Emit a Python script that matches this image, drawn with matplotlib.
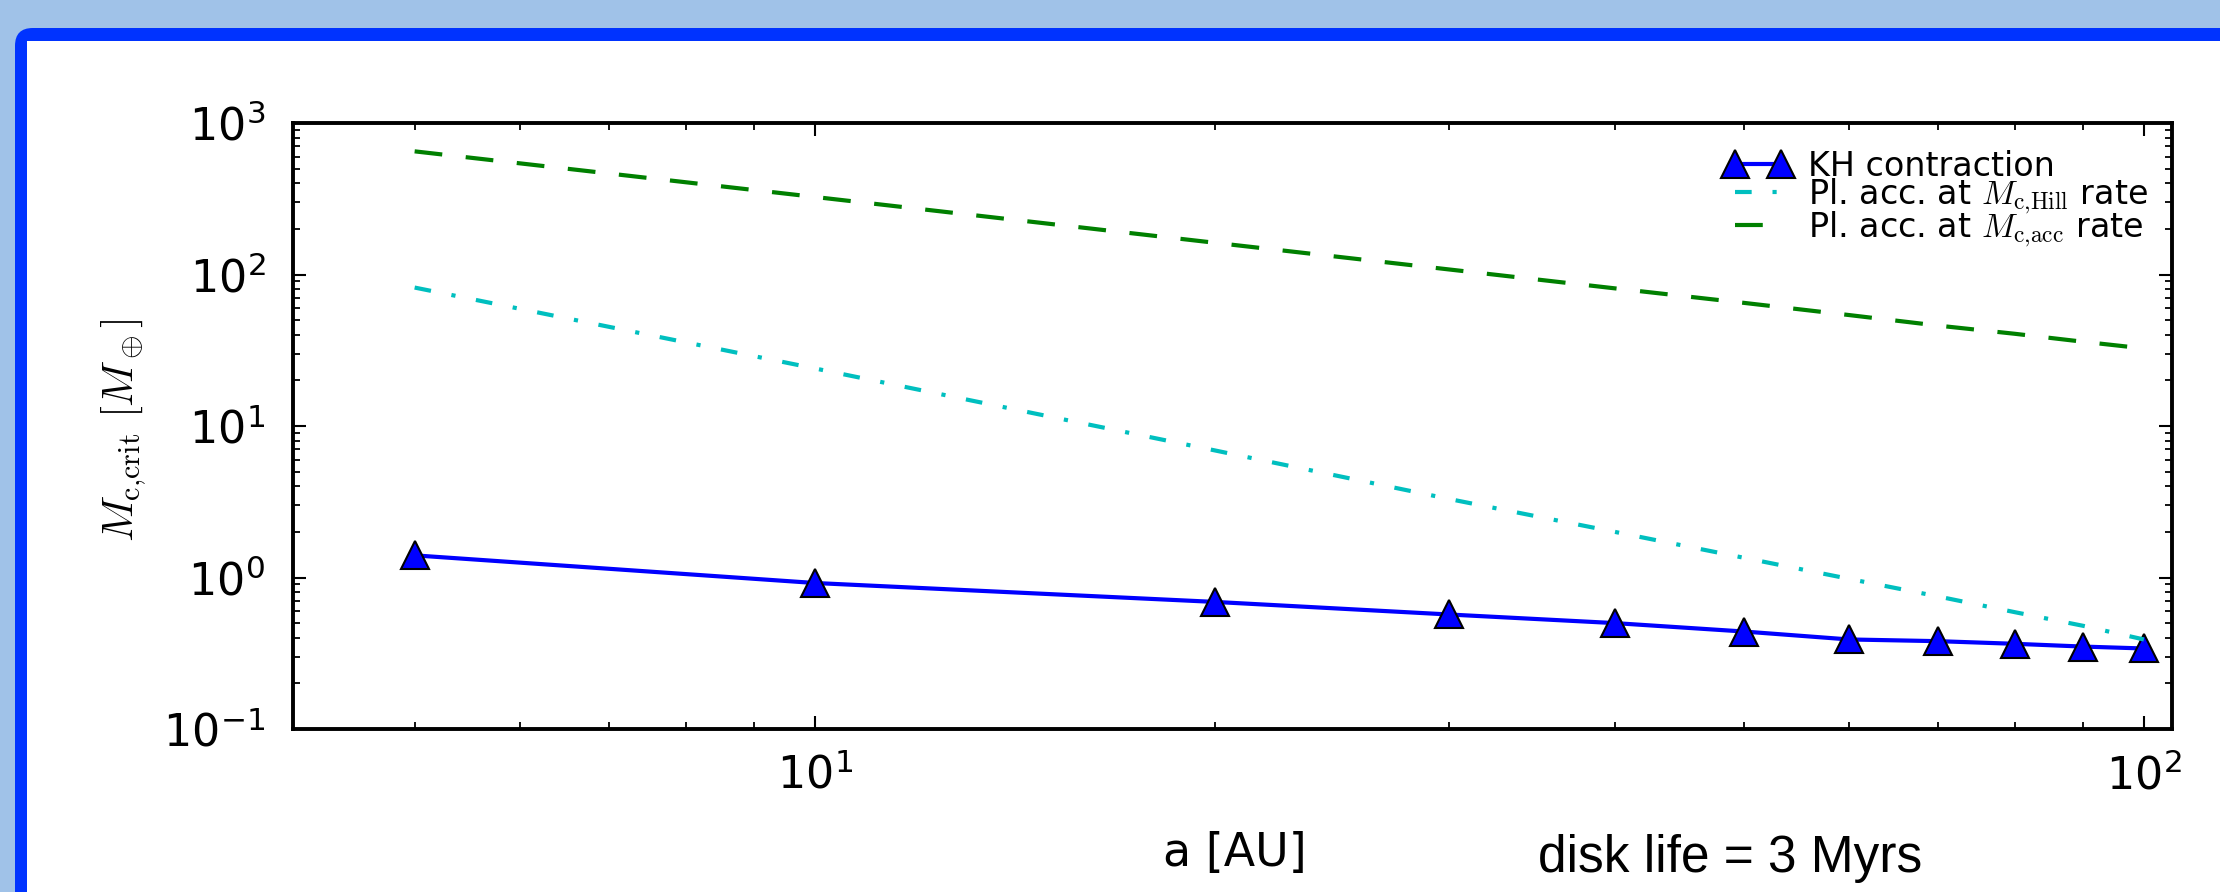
"""
=========================================================
Critical core mass vs. semi-major axis (disk life 3 Myr)
=========================================================
"""

import math
import matplotlib
matplotlib.use("Agg")
import matplotlib.pyplot as plt
from matplotlib.patches import Rectangle, FancyBboxPatch
from matplotlib.ticker import FuncFormatter, LogLocator

# ==========================================================
# Data
# ==========================================================

a_au = [5, 10, 20, 30, 40, 50, 60, 70, 80, 90, 100]

kh_contraction = [1.40, 0.92, 0.69, 0.57, 0.50, 0.44, 0.39, 0.38, 0.365, 0.35, 0.34]

acc_hill_rate = [82, 24, 6.9, 3.3, 2.0, 1.35, 0.98, 0.75, 0.59, 0.48, 0.39]

acc_acc_rate = [650, 325, 162, 108, 81, 65, 54, 46, 40.6, 36, 32.5]

labels = [
    "KH contraction",
    r"Pl. acc. at $M_{\rm c{,}Hill}$ rate",
    r"Pl. acc. at $M_{\rm c{,}acc}$ rate",
]

# ==========================================================
# Style
# ==========================================================

plt.rcParams["font.family"] = ["DejaVu Sans"]
plt.rcParams["mathtext.fontset"] = "cm"
plt.rcParams["lines.scale_dashes"] = False

W, H = 2220, 892
fig = plt.figure(figsize=(W / 100, H / 100), dpi=100)
fig.patch.set_facecolor("#A0C2E8")

# blue frame with white inside (slide background)
fig.patches.append(FancyBboxPatch(
    (15 / W, -0.2), 1.2, 1.2 - 28 / H,
    boxstyle="round,pad=0,rounding_size=0.008",
    transform=fig.transFigure, facecolor="#0033FF", edgecolor="none",
    mutation_aspect=W / H, zorder=-3))
fig.patches.append(Rectangle(
    (27 / W, -0.2), 1.2, 1.2 - 41 / H,
    transform=fig.transFigure, facecolor="white", edgecolor="none",
    zorder=-2))

ax = fig.add_axes([293 / W, 1 - 729 / H, (2172 - 293) / W, (729 - 123) / H])
ax.set_facecolor("none")

# ==========================================================
# Curves
# ==========================================================

ax.plot(a_au, kh_contraction, color="blue", lw=3, marker="^",
        ms=20, mfc="blue", mec="black", mew=1.5, label=labels[0])

ax.plot(a_au, acc_hill_rate, color="#00BFBF", lw=3,
        dashes=(12, 15, 3, 15), label=labels[1])

ax.plot(a_au, acc_acc_rate, color="green", lw=3,
        dashes=(20, 17), label=labels[2])

ax.set_xscale("log")
ax.set_yscale("log")
ax.set_xlim(4.05, 105)
ax.set_ylim(0.1, 1000)

# ==========================================================
# Axes, ticks, labels
# ==========================================================

def pow_fmt(v, pos):
    if v <= 0:
        return ""
    e = int(round(math.log10(v)))
    return r"$\mathregular{10^{%d}}$" % e


for ax_ in (ax.xaxis, ax.yaxis):
    ax_.set_major_locator(LogLocator(base=10))
    ax_.set_minor_locator(LogLocator(base=10, subs=range(2, 10)))
    ax_.set_major_formatter(FuncFormatter(pow_fmt))
    ax_.set_minor_formatter(FuncFormatter(lambda v, p: ""))

ax.tick_params(which="both", direction="in", top=True, right=True,
               labelsize=32)
ax.tick_params(which="major", length=9.5, width=1.5)
ax.tick_params(which="minor", length=5, width=1.3)
ax.tick_params(axis="y", which="major", pad=20)
ax.tick_params(axis="x", which="major", pad=18)

for s in ax.spines.values():
    s.set_linewidth(2.8)

fig.text(1235 / W, 1 - 866 / H, "a [AU]", fontsize=33,
         ha="center", va="baseline")

fig.text(1538 / W, 1 - 872 / H, "disk life = 3 Myrs", fontsize=37,
         family="Liberation Sans", ha="left", va="baseline")

fig.text(124 / W, 1 - 430 / H, r"$M_{\rm c{,}crit}\ [M_\oplus]$",
         fontsize=31, rotation=90, ha="center", va="center")

ax.legend(loc="upper right", bbox_to_anchor=(2148 / W, 1 - 150 / H),
          bbox_transform=fig.transFigure, frameon=False, fontsize=24,
          numpoints=2, handlelength=2.0, handletextpad=0.5,
          labelspacing=-0.2, borderpad=0, borderaxespad=0)

fig.savefig("out.png", dpi=100, facecolor=fig.get_facecolor())
